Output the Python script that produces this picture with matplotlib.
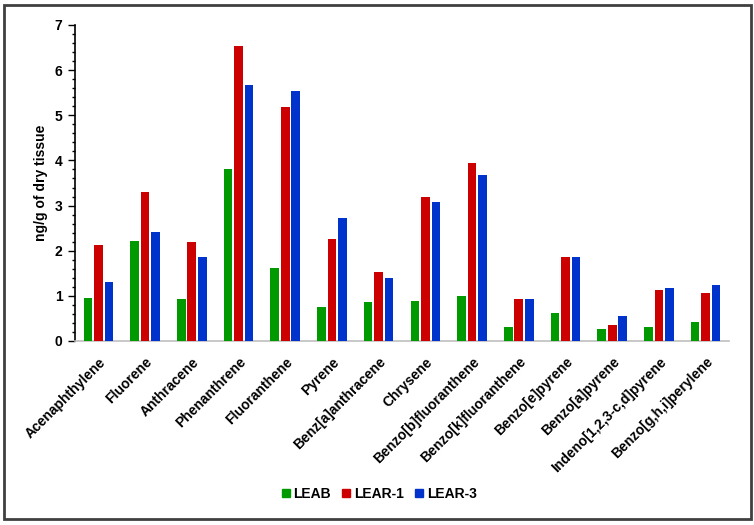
import matplotlib
matplotlib.use("Agg")
import matplotlib.pyplot as plt
import numpy as np
from matplotlib.patches import Rectangle
from matplotlib.ticker import MultipleLocator
from matplotlib.lines import Line2D

plt.rcParams['font.family'] = ['Liberation Sans', 'DejaVu Sans']

categories = ["Acenaphthylene", "Fluorene", "Anthracene", "Phenanthrene", "Fluoranthene",
              "Pyrene", "Benz[a]anthracene", "Chrysene", "Benzo[b]fluoranthene",
              "Benzo[k]fluoranthene", "Benzo[e]pyrene", "Benzo[a]pyrene",
              "Indeno[1,2,3-c,d]pyrene", "Benzo[g,h,i]perylene"]
leab = [0.96, 2.22, 0.92, 3.80, 1.62, 0.76, 0.86, 0.89, 1.00, 0.32, 0.63, 0.26, 0.32, 0.41]
lear1 = [2.13, 3.31, 2.19, 6.54, 5.18, 2.26, 1.52, 3.18, 3.94, 0.92, 1.87, 0.35, 1.13, 1.07]
lear3 = [1.31, 2.42, 1.87, 5.68, 5.54, 2.72, 1.40, 3.08, 3.68, 0.92, 1.85, 0.56, 1.18, 1.24]
series_names = ["LEAB", "LEAR-1", "LEAR-3"]
colors = ["#009900", "#CC0000", "#0033CC"]

W, H = 754, 525
fig = plt.figure(figsize=(W / 100, H / 100), dpi=100)
ax = fig.add_axes([75 / W, 1 - 341 / H, 654 / W, 316 / H])

x = np.arange(len(categories))
step = 0.225
bw = 0.185
for i, (vals, c, name) in enumerate(zip([leab, lear1, lear3], colors, series_names)):
    ax.bar(x + (i - 1) * step, vals, width=bw, color=c, label=name, zorder=3)

ax.set_xlim(-0.5, len(categories) - 0.5)
ax.set_ylim(0, 7)
ax.yaxis.set_major_locator(MultipleLocator(1))
ax.yaxis.set_minor_locator(MultipleLocator(0.2))
ax.tick_params(axis='y', which='major', length=5, width=1, direction='out', labelsize=10, pad=4, color='black')
ax.tick_params(axis='y', which='minor', length=2.5, width=1, direction='out', color='black')
for lab in ax.get_yticklabels():
    lab.set_fontweight('bold')

ax.set_xticks(x)
ax.set_xticklabels(categories, rotation=45, ha='right', rotation_mode='anchor',
                   fontsize=10, fontweight='bold')
ax.tick_params(axis='x', length=0, pad=10)

for s in ['top', 'right']:
    ax.spines[s].set_visible(False)
ax.spines['left'].set_color('black')
ax.spines['left'].set_linewidth(1.2)
ax.spines['bottom'].set_color('#BFBFBF')
ax.spines['bottom'].set_linewidth(1.2)

fig.text(41 / W, 1 - 183 / H, "ng/g of dry tissue", rotation=90, ha='center', va='center',
         fontsize=10, fontweight='bold')

handles = [Line2D([], [], marker='s', linestyle='none', markersize=6, color=c) for c in colors]
leg = fig.legend(handles, series_names, loc='center', bbox_to_anchor=(379 / W, 1 - 494 / H),
                 ncol=3, frameon=False, handlelength=0.6, handletextpad=0.25, columnspacing=0.8,
                 prop={'weight': 'bold', 'size': 10})

fig.patches.append(Rectangle((4 / W, 1 - 519 / H), 747 / W, 514 / H, transform=fig.transFigure,
                             fill=False, edgecolor='#404040', linewidth=2))

fig.savefig("out.png", dpi=100)
